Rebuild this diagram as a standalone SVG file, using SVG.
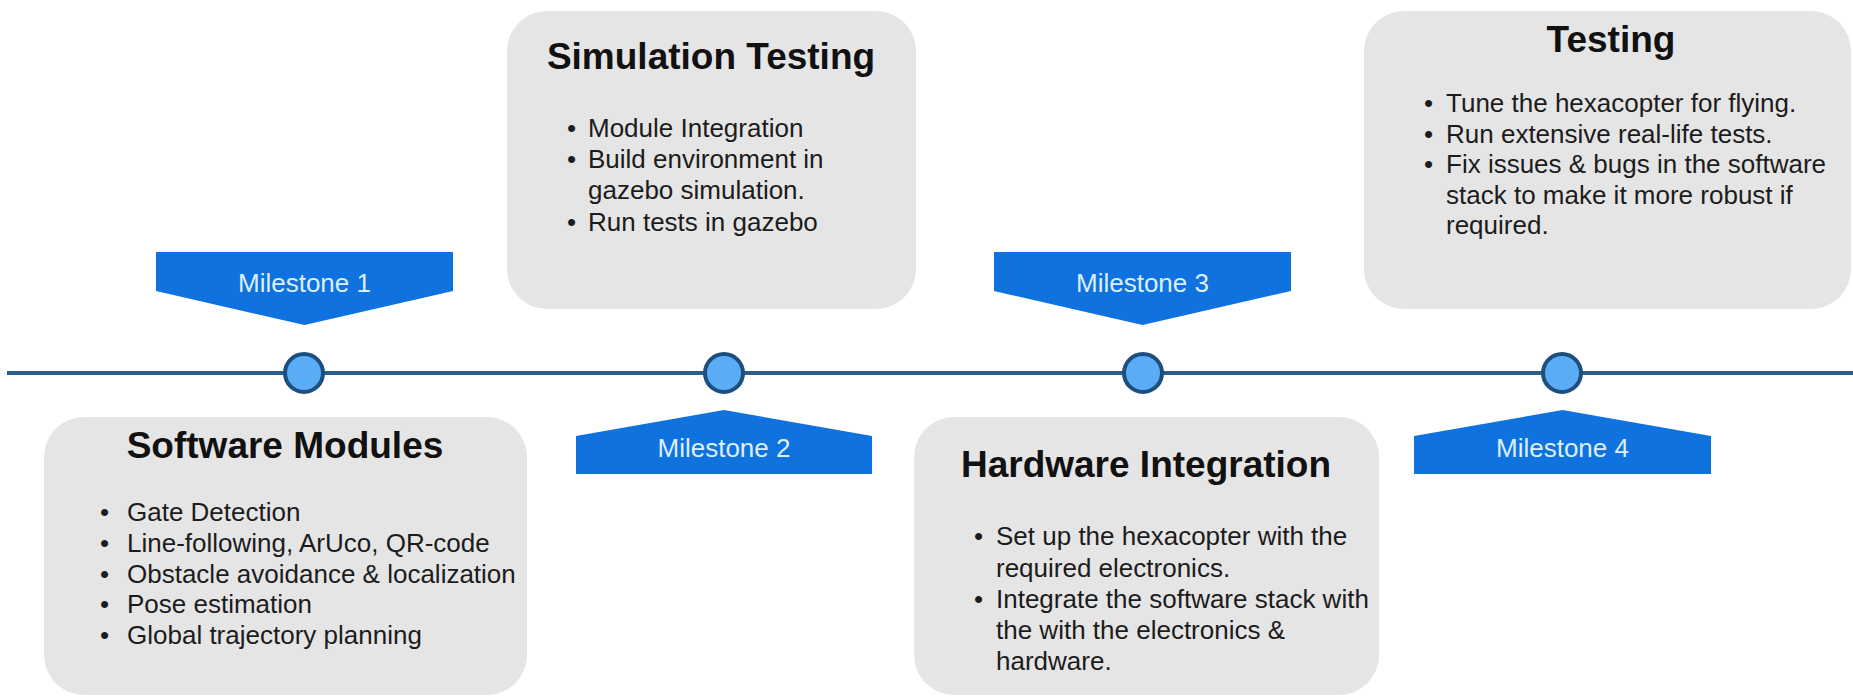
<svg xmlns="http://www.w3.org/2000/svg" width="1853" height="696" viewBox="0 0 1853 696">
<style>
.box{fill:#e5e5e5;}
.title{font-family:"Liberation Sans",Arial,sans-serif;font-weight:bold;font-size:37px;fill:#111;text-anchor:middle;}
.item{font-family:"Liberation Sans",Arial,sans-serif;font-size:26px;fill:#1c1c1c;}
.ms{fill:#0f72de;}
.mst{font-family:"Liberation Sans",Arial,sans-serif;font-size:26px;fill:#dcefff;text-anchor:middle;}
.dot{fill:#5aacf5;stroke:#1d4e80;stroke-width:4;}
</style>
<rect width="1853" height="696" fill="#ffffff"/>
<g id="connectors">
<line x1="7" y1="373" x2="1853" y2="373" stroke="#2d5b8c" stroke-width="4"/>
</g>
<g id="dots">
<circle class="dot" cx="304" cy="373" r="19"/>
<circle class="dot" cx="724" cy="373" r="19"/>
<circle class="dot" cx="1143" cy="373" r="19"/>
<circle class="dot" cx="1562" cy="373" r="19"/>
</g>
<g id="milestone1">
<polygon class="ms" points="156,252 453,252 453,291 304.5,325 156,291"/>
<text class="mst" x="304.5" y="292">Milestone 1</text>
</g>
<g id="milestone2">
<polygon class="ms" points="576,474 872,474 872,436 724,410 576,436"/>
<text class="mst" x="724" y="457">Milestone 2</text>
</g>
<g id="milestone3">
<polygon class="ms" points="994,252 1291,252 1291,291 1142.5,325 994,291"/>
<text class="mst" x="1142.5" y="292">Milestone 3</text>
</g>
<g id="milestone4">
<polygon class="ms" points="1414,474 1711,474 1711,436 1562.5,410 1414,436"/>
<text class="mst" x="1562.5" y="457">Milestone 4</text>
</g>
<g id="software-modules">
<rect class="box" x="44" y="417" width="483" height="278" rx="40"/>
<text class="title" x="285" y="458">Software Modules</text>
<text class="item" x="100" y="521">•</text><text class="item" x="127" y="521">Gate Detection</text>
<text class="item" x="100" y="552">•</text><text class="item" x="127" y="552">Line-following, ArUco, QR-code</text>
<text class="item" x="100" y="583">•</text><text class="item" x="127" y="583">Obstacle avoidance &amp; localization</text>
<text class="item" x="100" y="613">•</text><text class="item" x="127" y="613">Pose estimation</text>
<text class="item" x="100" y="644">•</text><text class="item" x="127" y="644">Global trajectory planning</text>
</g>
<g id="simulation-testing">
<rect class="box" x="507" y="11" width="409" height="298" rx="40"/>
<text class="title" x="711" y="69">Simulation Testing</text>
<text class="item" x="567" y="137">•</text><text class="item" x="588" y="137">Module Integration</text>
<text class="item" x="567" y="168">•</text><text class="item" x="588" y="168">Build environment in</text>
<text class="item" x="588" y="199">gazebo simulation.</text>
<text class="item" x="567" y="231">•</text><text class="item" x="588" y="231">Run tests in gazebo</text>
</g>
<g id="hardware-integration">
<rect class="box" x="914" y="417" width="465" height="278" rx="40"/>
<text class="title" x="1146" y="477">Hardware Integration</text>
<text class="item" x="974" y="545">•</text><text class="item" x="996" y="545">Set up the hexacopter with the</text>
<text class="item" x="996" y="577">required electronics.</text>
<text class="item" x="974" y="608">•</text><text class="item" x="996" y="608">Integrate the software stack with</text>
<text class="item" x="996" y="639">the with the electronics &amp;</text>
<text class="item" x="996" y="670">hardware.</text>
</g>
<g id="testing">
<rect class="box" x="1364" y="11" width="487" height="298" rx="40"/>
<text class="title" x="1611" y="52">Testing</text>
<text class="item" x="1424" y="112">•</text><text class="item" x="1446" y="112">Tune the hexacopter for flying.</text>
<text class="item" x="1424" y="143">•</text><text class="item" x="1446" y="143">Run extensive real-life tests.</text>
<text class="item" x="1424" y="173">•</text><text class="item" x="1446" y="173">Fix issues &amp; bugs in the software</text>
<text class="item" x="1446" y="204">stack to make it more robust if</text>
<text class="item" x="1446" y="234">required.</text>
</g>
</svg>
